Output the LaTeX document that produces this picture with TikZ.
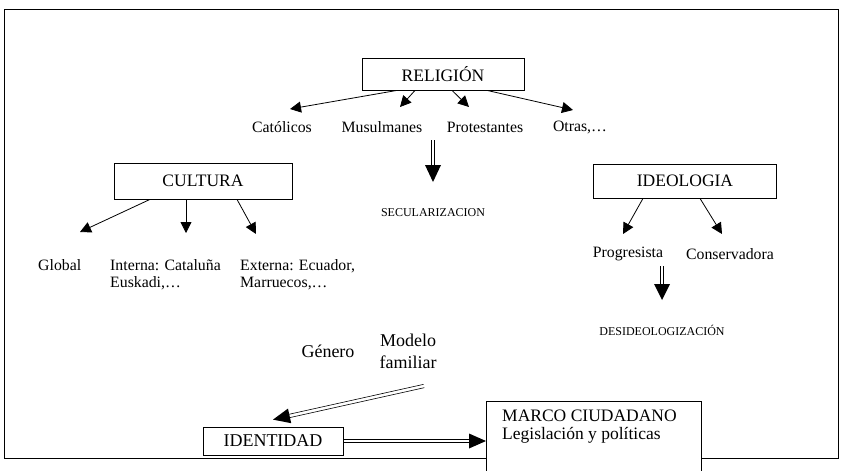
\documentclass[tikz,border=0pt]{standalone}
\usepackage{fontspec}
\setmainfont{Liberation Serif}
\usetikzlibrary{arrows.meta,calc}
\begin{document}
\begin{tikzpicture}[x=1pt,y=-1pt,
  box/.style={draw,line width=0.8pt,inner sep=0pt,font=\fontsize{17.5}{19}\selectfont},
  lbl/.style={inner sep=0pt,font=\fontsize{15.8}{17}\selectfont},
  small/.style={inner sep=0pt,font=\fontsize{12}{13}\selectfont},
  big/.style={inner sep=0pt,font=\fontsize{18}{22}\selectfont},
  arr/.style={line width=0.8pt,-{Triangle[length=11pt,width=11pt]}},
  shaft/.style={line width=0.6pt},
  head/.style={fill=black,draw=none}]
\useasboundingbox (0,0) rectangle (843,471);
% frame
\draw[line width=0.8pt] (486,458) -- (4,458) -- (4,9) -- (838,9) -- (838,458) -- (701,458);
% RELIGION
\node[box,minimum width=162pt,minimum height=32pt] (rel) at (443,74) {RELIGIÓN};
\node[lbl] (cat) at (282,127) {Católicos};
\node[lbl] (mus) at (382,127) {Musulmanes};
\node[lbl] (pro) at (485,127) {Protestantes};
\node[lbl] (otr) at (580,127) {Otras,\dots};
\draw[arr] ([xshift=-46pt]rel.south) -- ($(cat)+(8,-18)$);
\draw[arr] ([xshift=-28pt]rel.south) -- ($(mus)+(18,-20)$);
\draw[arr] ([xshift=9pt]rel.south) -- ($(pro)+(-16,-20)$);
\draw[arr] ([xshift=44pt]rel.south) -- ($(otr)+(-7,-17)$);
% secularizacion
\node[small] (sec) at (433,213) {SECULARIZACION};
\coordinate (s0) at (433,140);
\coordinate (st) at ($(sec)+(0,-31)$);
\coordinate (sb) at ($(st)+(0,-17)$);
\draw[shaft] ($(s0)+(-1.7,0)$) -- ($(sb)+(-1.7,0)$);
\draw[shaft] ($(s0)+(1.7,0)$) -- ($(sb)+(1.7,0)$);
\fill[head] ($(sb)+(-8,0)$) -- ($(sb)+(8,0)$) -- (st) -- cycle;
% CULTURA
\node[box,minimum width=178pt,minimum height=36pt] (cul) at (203,181) {CULTURA};
\node[lbl,anchor=north west] (glo) at (38,259) {Global};
\node[lbl,anchor=north west,align=left] (int) at (110,259) {Interna: Cataluña\\Euskadi,\dots};
\node[lbl,anchor=north west,align=left] (ext) at (240,259) {Externa: Ecuador,\\Marruecos,\dots};
\draw[arr] ([xshift=-53pt]cul.south) -- ($(glo.north west)+(42,-27)$);
\draw[arr] ([xshift=-17pt]cul.south) -- ($(int.north west)+(76,-26)$);
\draw[arr] ([xshift=34pt]cul.south) -- ($(ext.north west)+(16,-25)$);
% IDEOLOGIA
\node[box,minimum width=183pt,minimum height=34pt] (ide) at (685,181) {IDEOLOGIA};
\node[lbl] (prg) at (628,254) {Progresista};
\node[lbl] (con) at (730,254) {Conservadora};
\draw[arr] ([xshift=-42pt]ide.south) -- ($(prg)+(-5,-20)$);
\draw[arr] ([xshift=15pt]ide.south) -- ($(con)+(-8,-20)$);
% desideologizacion
\node[small] (des) at (662,330) {DESIDEOLOGIZACIÓN};
\coordinate (d0) at (662,266);
\coordinate (dt) at ($(des)+(0,-30)$);
\coordinate (db) at ($(dt)+(0,-16)$);
\draw[shaft] ($(d0)+(-1.7,0)$) -- ($(db)+(-1.7,0)$);
\draw[shaft] ($(d0)+(1.7,0)$) -- ($(db)+(1.7,0)$);
\fill[head] ($(db)+(-8,0)$) -- ($(db)+(8,0)$) -- (dt) -- cycle;
% genero / modelo
\node[big] (gen) at (328,351) {Género};
\node[big,align=center] (mod) at (408,351) {Modelo\\familiar};
% IDENTIDAD
\node[box,font=\fontsize{18}{20}\selectfont,minimum width=140pt,minimum height=28pt] (idn) at (273,441) {IDENTIDAD};
\coordinate (m0) at (424,386);
\coordinate (mt) at ($(idn.north)+(0,-7)$);
\coordinate (mb) at ($(mt)!17pt!(m0)$);
\draw[shaft] ($(m0)!1.7pt!90:(mt)$) -- ($(mb)!1.7pt!-90:(m0)$);
\draw[shaft] ($(m0)!1.7pt!-90:(mt)$) -- ($(mb)!1.7pt!90:(m0)$);
\fill[head] (mt) -- ($(mb)!7.5pt!90:(mt)$) -- ($(mb)!7.5pt!-90:(mt)$) -- cycle;
% MARCO
\node[draw,line width=0.8pt,anchor=north west,minimum width=215pt,minimum height=95pt,inner sep=0pt] (mar) at (486,401) {};
\node[lbl,font=\fontsize{17.5}{18}\selectfont,anchor=north west,align=left] (martxt) at (502,410) {MARCO CIUDADANO\\Legislación y políticas};
\coordinate (hL) at (idn.east);
\coordinate (hR) at (mar.west |- hL);
\coordinate (hB) at ($(hR)+(-17,0)$);
\draw[shaft] ($(hL)+(0,-1.7)$) -- ($(hB)+(0,-1.7)$);
\draw[shaft] ($(hL)+(0,1.7)$) -- ($(hB)+(0,1.7)$);
\fill[head] (hR) -- ($(hB)+(0,-7.5)$) -- ($(hB)+(0,7.5)$) -- cycle;
\end{tikzpicture}
\end{document}
